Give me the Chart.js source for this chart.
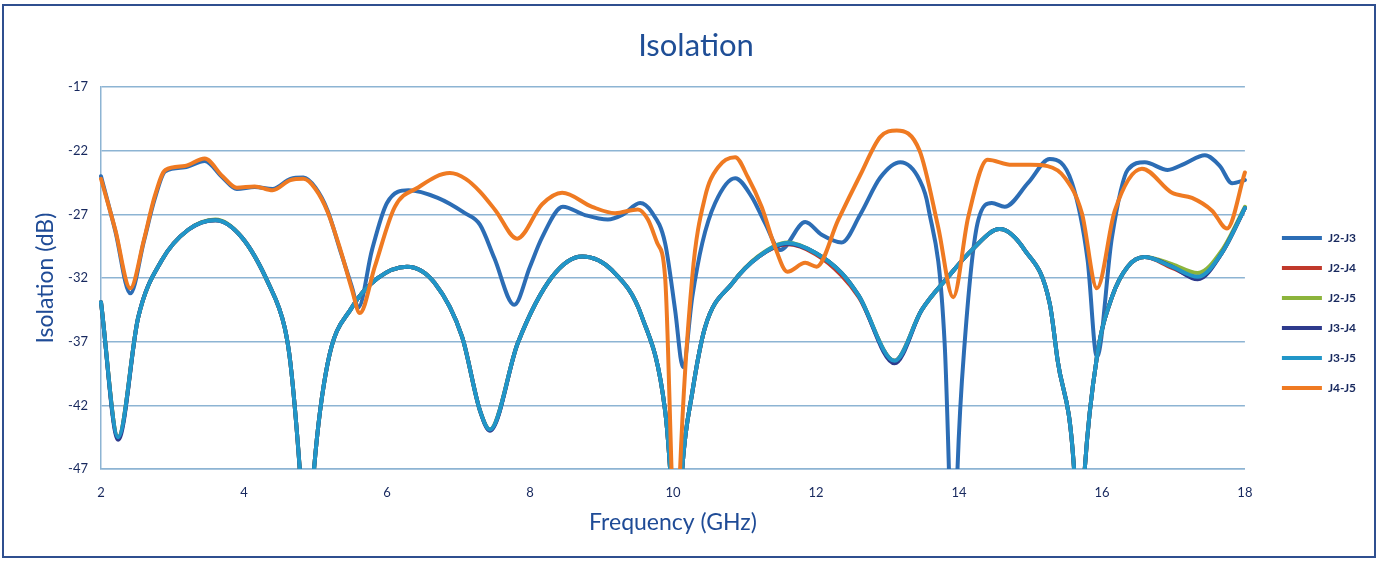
<!DOCTYPE html>
<html>
<head>
<meta charset="utf-8">
<title>Isolation</title>
<script src="https://cdn.jsdelivr.net/npm/chart.js@4.4.1/dist/chart.umd.min.js"></script>
<style>
    html, body { margin: 0; padding: 0; background: #fff; }
    #wrap { position: relative; width: 1384px; height: 561px; }
    #isoChart { position: absolute; left: 0; top: 0; }
    #frame { position: absolute; left: 2px; top: 4px; width: 1370px; height: 550px; border: 2px solid #2f4f8f; pointer-events: none; }
</style>
</head>
<body>
<div id="wrap">
    <canvas id="isoChart" width="1384" height="561"></canvas>
    <div id="frame"></div>
</div>
<script>
// y axis ticks (dB)
const yTickValues = [-47, -42, -37, -32, -27, -22, -17];

// J2-J3 (frequency in GHz, isolation in dB)
const freqJ2J3 = [
    2.0, 2.2, 2.41, 2.6, 2.75, 2.9, 3.17, 3.45, 3.7, 3.9,
    4.15, 4.4, 4.65, 4.83, 5.0, 5.17, 5.35, 5.51, 5.6, 5.79,
    6.0, 6.3, 6.71, 7.09, 7.3, 7.5, 7.78, 8.0, 8.17, 8.46,
    8.77, 9.09, 9.3, 9.54, 9.7, 9.89, 10.03, 10.14, 10.27, 10.41,
    10.59, 10.87, 11.1, 11.29, 11.5, 11.85, 12.08, 12.36, 12.62, 12.9,
    13.18, 13.45, 13.57, 13.8, 13.86, 13.92, 13.98, 14.08, 14.27, 14.46,
    14.64, 14.97, 15.27, 15.58, 15.8, 15.93, 16.14, 16.36, 16.6, 16.92,
    17.16, 17.44, 17.65, 17.82, 18.0
];
const valJ2J3 = [
    -24.0, -28.3, -33.2, -29.1, -25.8, -23.6, -23.3, -22.8, -24.1, -25.0,
    -24.85, -25.0, -24.2, -24.1, -24.9, -26.7, -29.9, -32.7, -34.3, -29.8,
    -26.1, -25.1, -25.7, -26.9, -27.8, -30.4, -34.1, -31.1, -28.8, -26.4,
    -27.05, -27.4, -27.0, -26.1, -26.8, -29.25, -34.5, -39.0, -33.5, -29.25,
    -26.1, -24.15, -25.6, -27.7, -29.8, -27.6, -28.6, -29.2, -27.0, -24.1,
    -22.9, -24.3, -26.4, -37.1, -47, -60, -47, -37.1, -27.45, -26.1,
    -26.4, -24.5, -22.65, -24.5, -30.6, -38.2, -28.8, -23.5, -22.9, -23.5,
    -23.0, -22.35, -23.2, -24.55, -24.3
];

// J4-J5
const freqJ4J5 = [
    2.0, 2.2, 2.41, 2.6, 2.75, 2.9, 3.17, 3.45, 3.7, 3.9,
    4.15, 4.4, 4.65, 4.83, 5.0, 5.17, 5.35, 5.51, 5.62, 5.83,
    6.11, 6.43, 6.88, 7.1, 7.3, 7.52, 7.82, 8.17, 8.45, 8.87,
    9.19, 9.51, 9.65, 9.78, 9.89, 9.98, 10.04, 10.1, 10.27, 10.45,
    10.63, 10.87, 11.05, 11.24, 11.43, 11.6, 11.85, 12.01, 12.31, 12.62,
    12.9, 13.13, 13.45, 13.71, 13.92, 14.13, 14.4, 14.74, 15.0, 15.24,
    15.48, 15.72, 15.93, 16.18, 16.56, 16.98, 17.26, 17.54, 17.75, 18.0
];
const valJ4J5 = [
    -24.2, -28.2, -32.8, -29.0, -25.6, -23.5, -23.2, -22.6, -24.0, -24.9,
    -24.8, -25.1, -24.3, -24.2, -25.0, -26.8, -29.8, -32.9, -34.75, -31.1,
    -26.4, -24.9, -23.75, -24.2, -25.2, -26.7, -28.9, -26.2, -25.3, -26.4,
    -26.9, -26.6, -27.4, -29.25, -31.9, -47, -58, -47, -31.9, -25.6,
    -23.3, -22.5, -24.1, -26.4, -29.6, -31.5, -30.8, -31.1, -27.45, -23.9,
    -20.9, -20.4, -22.0, -28.0, -33.5, -27.2, -22.7, -23.1, -23.1, -23.2,
    -24.1, -26.9, -32.8, -26.7, -23.4, -25.3, -25.7, -26.7, -28.1, -23.7
];

// the four lower pairs share one frequency grid
const freqLow = [
    2.0, 2.24, 2.52, 2.85, 3.22, 3.6, 3.97, 4.34, 4.57, 4.65,
    4.78, 4.88, 4.98, 5.17, 5.51, 5.87, 6.28, 6.67, 7.05, 7.3,
    7.44, 7.83, 8.31, 8.73, 9.15, 9.57, 9.89, 9.96, 10.05, 10.13,
    10.27, 10.45, 10.83, 11.19, 11.6, 11.99, 12.36, 12.6, 13.1, 13.48,
    13.85, 14.18, 14.57, 14.92, 15.27, 15.38, 15.61, 15.68, 15.76, 15.93,
    16.14, 16.36, 16.6, 16.98, 17.34, 17.68, 18.0
];
const valJ2J4 = [
    -33.9, -44.5, -35.1, -30.6, -28.2, -27.45, -28.8, -32.4, -35.9, -38.7,
    -47, -56, -47, -38.7, -34.3, -32.0, -31.1, -32.4, -36.6, -42.4,
    -43.9, -37.1, -31.9, -30.3, -31.4, -35.1, -42.4, -47, -56, -47,
    -41.0, -35.85, -32.4, -30.35, -29.35, -30.1, -31.8, -33.5, -38.5, -34.5,
    -31.9, -29.8, -28.15, -29.8, -34.0, -38.45, -47, -56, -47, -38.2,
    -33.5, -31.1, -30.35, -31.2, -31.9, -30.0, -26.5
];
const valJ2J5 = [
    -33.9, -44.5, -35.1, -30.6, -28.2, -27.4, -28.8, -32.4, -35.9, -38.7,
    -47, -56, -47, -38.7, -34.3, -32.0, -31.1, -32.4, -36.6, -42.4,
    -43.9, -37.1, -31.9, -30.3, -31.4, -35.1, -42.4, -47, -56, -47,
    -41.0, -35.85, -32.4, -30.3, -29.2, -30.0, -31.6, -33.4, -38.5, -34.5,
    -31.9, -29.8, -28.15, -29.8, -34.0, -38.45, -47, -56, -47, -38.2,
    -33.5, -31.1, -30.35, -30.9, -31.6, -29.8, -26.4
];
const valJ3J4 = [
    -33.9, -44.7, -35.1, -30.6, -28.2, -27.45, -28.8, -32.4, -35.9, -38.7,
    -47, -56, -47, -38.7, -34.3, -32.0, -31.1, -32.4, -36.6, -42.4,
    -44.0, -37.1, -31.9, -30.3, -31.4, -35.1, -42.4, -47, -56, -47,
    -41.0, -35.85, -32.4, -30.35, -29.3, -30.0, -31.6, -33.4, -38.7, -34.5,
    -31.9, -29.8, -28.15, -29.8, -34.0, -38.45, -47, -56, -47, -38.2,
    -33.5, -31.1, -30.35, -31.1, -32.1, -30.0, -26.5
];
const valJ3J5 = [
    -33.9, -44.5, -35.1, -30.6, -28.2, -27.45, -28.8, -32.4, -35.9, -38.7,
    -47, -56, -47, -38.7, -34.3, -32.0, -31.1, -32.4, -36.6, -42.4,
    -43.9, -37.1, -31.9, -30.3, -31.4, -35.1, -42.4, -47, -56, -47,
    -41.0, -35.85, -32.4, -30.35, -29.25, -30.0, -31.6, -33.4, -38.5, -34.5,
    -31.9, -29.8, -28.15, -29.8, -34.0, -38.45, -47, -56, -47, -38.2,
    -33.5, -31.1, -30.35, -31.1, -31.9, -30.0, -26.5
];

const tickColor = '#17285e';
const titleColor = '#1f4b96';
const gridColor = '#8db4d3';

Chart.defaults.font.family = 'Lato, "Open Sans", sans-serif';

function toPoints(freqs, vals) {
    return freqs.map(function (f, i) {
        return { x: f, y: vals[i] };
    });
}

// one line per port pair; lower "order" is drawn on top
function lineSet(label, freqs, vals, color, order) {
    return {
        label: label,
        data: toPoints(freqs, vals),
        borderColor: color,
        backgroundColor: color,
        borderWidth: 4,
        borderCapStyle: 'round',
        pointRadius: 0,
        cubicInterpolationMode: 'monotone',
        clip: { left: 3, top: 0, right: 3, bottom: 0 },
        order: order
    };
}

var isoChart = new Chart(document.getElementById('isoChart'), {
    type: 'line',
    data: {
        datasets: [
            lineSet('J2-J3', freqJ2J3, valJ2J3, '#2c6db5', 5),
            lineSet('J2-J4', freqLow, valJ2J4, '#c0392b', 4),
            lineSet('J2-J5', freqLow, valJ2J5, '#8cb43c', 3),
            lineSet('J3-J4', freqLow, valJ3J4, '#2e3a8c', 2),
            lineSet('J3-J5', freqLow, valJ3J5, '#2196c8', 1),
            lineSet('J4-J5', freqJ4J5, valJ4J5, '#ef7a22', 0)
        ]
    },
    options: {
        responsive: false,
        animation: false,
        devicePixelRatio: 1,
        layout: { padding: { left: 26, right: 18, top: 10, bottom: 6 } },
        plugins: {
            title: {
                display: true,
                text: 'Isolation',
                color: '#1f4e96',
                font: { size: 31, weight: 'normal' },
                padding: { top: 17, bottom: 23 }
            },
            legend: {
                position: 'right',
                // blank title only pushes the items down
                title: { display: true, text: ' ', font: { size: 10 }, padding: { top: 25, bottom: 24 } },
                labels: {
                    usePointStyle: true,
                    pointStyle: 'line',
                    pointStyleWidth: 40,
                    padding: 18,
                    color: tickColor,
                    font: { size: 12, weight: 'bold' },
                    sort: function (a, b) { return a.datasetIndex - b.datasetIndex; }
                }
            },
            tooltip: { enabled: false }
        },
        scales: {
            x: {
                type: 'linear',
                min: 2,
                max: 18,
                afterFit: function (scale) { scale.height = 86; },
                ticks: { stepSize: 2, padding: 16, color: tickColor, font: { size: 13 } },
                grid: { display: false, drawTicks: false },
                border: { color: gridColor, width: 1.5 },
                title: {
                    display: true,
                    text: 'Frequency (GHz)',
                    color: titleColor,
                    font: { size: 23 },
                    padding: { top: 8, bottom: 19 }
                }
            },
            y: {
                min: -47,
                max: -17,
                afterFit: function (scale) { scale.width = 75; },
                afterBuildTicks: function (scale) {
                    scale.ticks = yTickValues.map(function (v) { return { value: v }; });
                },
                ticks: { padding: 13, color: tickColor, font: { size: 13 } },
                grid: { color: gridColor, lineWidth: 1.5, drawTicks: false },
                border: { color: gridColor, width: 1.5 },
                title: {
                    display: true,
                    text: 'Isolation (dB)',
                    color: titleColor,
                    font: { size: 23 },
                    padding: { top: 6, bottom: 10 }
                }
            },
            // empty axis that only keeps a gap between the plot and the legend
            gap: {
                position: 'right',
                display: true,
                grid: { display: false },
                border: { display: false },
                ticks: { display: false },
                afterFit: function (scale) { scale.width = 19; }
            }
        }
    }
});
</script>
</body>
</html>
